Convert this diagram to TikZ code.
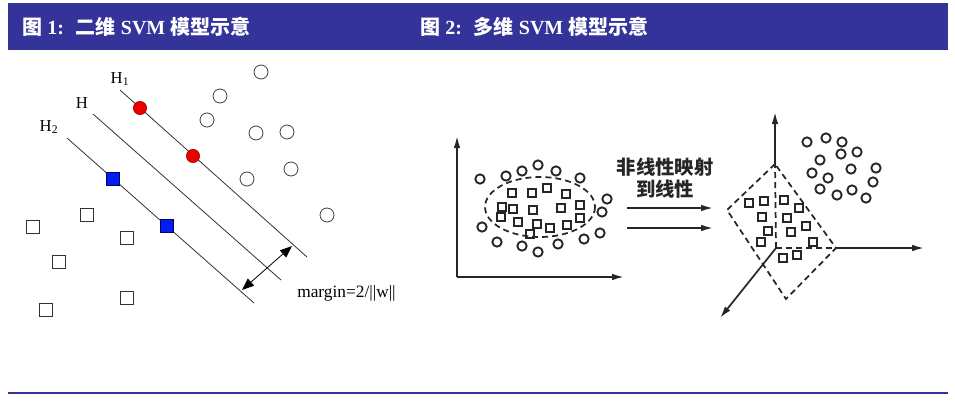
\documentclass[tikz,border=0pt]{standalone}
\usepackage{fontspec}
\setmainfont{Liberation Serif}
\newfontfamily\cjk{Noto Sans CJK SC}
\usetikzlibrary{arrows.meta}

\definecolor{barblue}{RGB}{51,51,153}
\definecolor{ptred}{RGB}{235,0,0}
\definecolor{ptblue}{RGB}{0,30,240}

\tikzset{
	hdr/.style={anchor=west, text=white, font=\fontsize{15pt}{18pt}\selectfont\bfseries, inner sep=0pt},
	lbl/.style={font=\fontsize{12.5pt}{15pt}\selectfont, inner sep=0pt},
	opencirc/.style={circle, draw=black!75, line width=0.6pt, minimum size=10.5pt, inner sep=0pt},
	opensq/.style={rectangle, draw=black!80, line width=0.6pt, minimum size=10pt, inner sep=0pt},
	redpt/.style={circle, fill=ptred, draw=red!60!black, line width=0.4pt, minimum size=10pt, inner sep=0pt},
	bluesq/.style={rectangle, fill=ptblue, draw=blue!40!black, line width=0.4pt, minimum size=10pt, inner sep=0pt},
	smallcirc/.style={circle, draw=black!85, line width=1.4pt, minimum size=7pt, inner sep=0pt},
	smallsq/.style={rectangle, draw=black!85, line width=1.3pt, minimum size=5.8pt, inner sep=0pt},
	hyper/.style={black!80, line width=0.6pt},
	axis/.style={-{Latex[length=9pt, width=5pt]}, black!85, line width=1.3pt},
	region/.style={black!85, line width=1.3pt, dash pattern=on 4.5pt off 3pt},
}

\begin{document}
\begin{tikzpicture}[x=0.75pt, y=-0.75pt]
		\useasboundingbox (0,0) rectangle (955,400);

		\fill[barblue]	(8,3) rectangle (948,50);
		\node[hdr] (title1) at (22,27) {{\cjk 图} 1:\hspace{0.6em}{\cjk 二维} SVM {\cjk 模型示意}};
		\node[hdr] (title2) at (420,27) {{\cjk 图} 2:\hspace{0.6em}{\cjk 多维} SVM {\cjk 模型示意}};
		\draw[barblue, line width=1.2pt]	(8,393) to (948,393);

		\coordinate (h1s) at (120,90);	\coordinate (h1e) at (307,257);
		\coordinate (hs) at (93,114);	\coordinate (he) at (281,280);
		\coordinate (h2s) at (67,138);	\coordinate (h2e) at (254,303);
		\draw[hyper]	(h1s) to (h1e);
		\draw[hyper]	(hs) to (he);
		\draw[hyper]	(h2s) to (h2e);

		\node[lbl] (lblHa) at (120,79) {H\textsubscript{1}};
		\node[lbl] (lblH) at (82,103) {H};
		\node[lbl] (lblHb) at (49,127) {H\textsubscript{2}};

		\foreach \p [count=\i] in {(261,72), (220,96), (207,120), (256,133), (287,132), (291,169), (247,179), (327,215)}
			\node[opencirc] (oc\i) at \p {};
		\foreach \p [count=\i] in {(87,215), (33,227), (127,238), (59,262), (127,298), (46,310)}
			\node[opensq] (os\i) at \p {};
		\node[redpt] (sva) at (140,108) {};
		\node[redpt] (svb) at (193,156) {};
		\node[bluesq] (svc) at (113,179) {};
		\node[bluesq] (svd) at (167,226) {};

		\coordinate (ma) at (292,246);
		\coordinate (mb) at (242,290);
		\draw[{Triangle[length=9pt, width=7pt]}-{Triangle[length=9pt, width=7pt]}, black, line width=0.6pt]	(ma) to (mb);
		\node[lbl, anchor=west, font=\fontsize{13pt}{15pt}\selectfont] (lblmargin) at (297,293) {margin=2/||w||};

		\coordinate (o2) at (457,277);
		\draw[axis]	(o2) to (457,136);
		\draw[axis]	(o2) to (624,277);
		\draw[region]	(540,207) ellipse [x radius=55, y radius=30];
		\foreach \p [count=\i] in {(480,179), (506,176), (522,171), (538,165), (556,171), (580,178), (607,199), (602,212), (482,227), (497,242), (522,246), (538,252), (558,244), (584,239), (600,233)}
			\node[smallcirc] (ca\i) at \p {};
		\foreach \p [count=\i] in {(512,193), (532,193), (547,188), (566,194), (502,207), (513,209), (533,210), (561,208), (580,205), (501,217), (518,222), (537,224), (550,228), (567,225), (580,218), (530,234)}
			\node[smallsq] (sa\i) at \p {};

		\node[align=center, font=\cjk\bfseries\fontsize{14.5pt}{16.5pt}\selectfont, text=black!85, inner sep=0pt] (maplbl) at (665,178) {非线性映射\\到线性};
		\coordinate (mas) at (627,208);	\coordinate (mae) at (713,208);
		\coordinate (mbs) at (627,228);	\coordinate (mbe) at (713,228);
		\draw[axis]	(mas) to (mae);
		\draw[axis]	(mbs) to (mbe);

		\coordinate (o3) at (776,248);
		\coordinate (top3) at (775,164);
		\coordinate (left3) at (727,210);
		\coordinate (bot3) at (786,299);
		\coordinate (right3) at (836,248);
		\draw[region]	(top3) to (left3) to (bot3) to (right3) to cycle;
		\draw[region]	(o3) to (top3);
		\draw[region]	(o3) to (right3);
		\draw[axis]	(top3) to (775,112);
		\draw[axis]	(right3) to (924,248);
		\draw[axis]	(o3) to (720,318);
		\foreach \p [count=\i] in {(749,203), (764,201), (784,200), (799,208), (762,217), (787,218), (768,231), (791,232), (806,226), (761,242), (813,242), (783,258), (797,255)}
			\node[smallsq] (sb\i) at \p {};
		\foreach \p [count=\i] in {(807,142), (826,138), (842,142), (820,160), (841,154), (857,152), (812,173), (828,178), (851,169), (876,168), (820,189), (837,195), (852,190), (873,182), (866,198)}
			\node[smallcirc] (cb\i) at \p {};
	\end{tikzpicture}
\end{document}
